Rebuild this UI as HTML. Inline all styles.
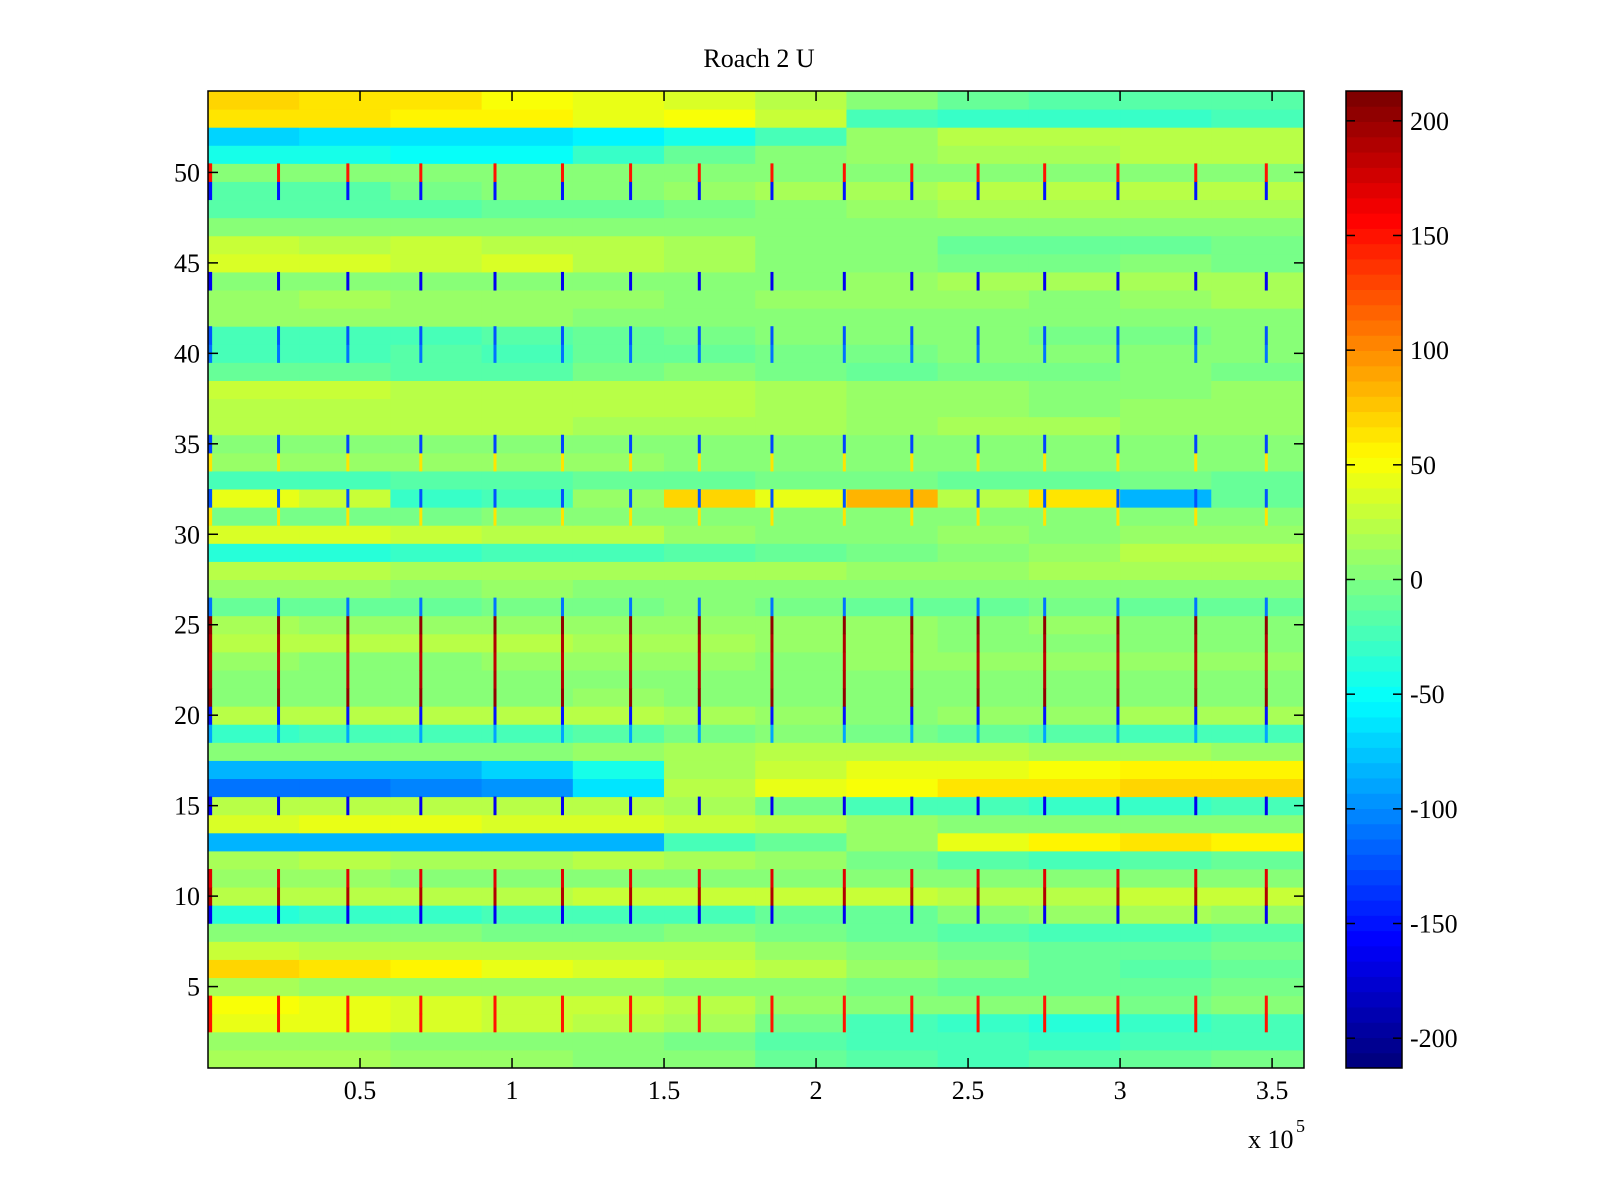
<!DOCTYPE html>
<html><head><meta charset="utf-8"><title>Roach 2 U</title>
<style>
html,body{margin:0;padding:0;background:#fff;}
svg{display:block;font-family:"Liberation Serif","DejaVu Serif",serif;}
</style></head>
<body>
<svg id="chart" width="1600" height="1200" viewBox="0 0 1600 1200" xmlns="http://www.w3.org/2000/svg">
<rect x="0" y="0" width="1600" height="1200" fill="#fff"/>
<text x="759" y="67" font-size="26" text-anchor="middle">Roach 2 U</text>
<g id="cells"></g>
<g id="stripes"></g>
<g id="axes"></g>
<g id="cbar"></g>
</svg>
<script>
// ---- data ----
const xSegEdges = [0,0.3,0.6,0.9,1.2,1.5,1.8,2.1,2.4,2.7,3.0,3.3,3.605]; // x (×1e5) segment edges
// row values, row 1 (bottom) .. row 54 (top); 12 segments each
const rowValues = [
[15,15,10,10,5,0,-10,-15,-20,-15,-10,-5],
[10,10,5,5,0,-5,-15,-20,-25,-30,-25,-20],
[45,45,35,30,25,15,-5,-20,-30,-35,-30,-25],
[50,40,35,30,30,20,10,5,0,0,-5,0],
[15,10,10,10,10,5,0,-5,-10,-10,-10,-5],
[70,65,55,40,35,30,20,10,0,-10,-15,-10],
[30,25,25,25,20,20,10,0,-5,-10,-10,-5],
[0,0,0,-5,-5,0,-5,-10,-15,-20,-20,-15],
[-35,-30,-30,-25,-20,-20,-10,-10,5,10,15,10],
[25,25,20,25,30,30,30,30,25,25,30,30],
[10,10,5,5,5,0,0,0,5,0,0,0],
[15,20,15,15,20,15,10,-5,-15,-20,-15,-10],
[-85,-85,-80,-85,-85,-20,-10,10,40,55,60,55],
[35,40,40,35,35,30,20,10,5,0,0,0],
[20,20,20,20,20,15,-5,-20,-25,-30,-30,-20],
[-110,-110,-100,-95,-60,25,40,50,60,65,70,70],
[-85,-80,-80,-70,-40,15,30,40,45,50,55,55],
[5,5,5,0,10,15,20,25,20,15,15,10],
[-30,-25,-25,-20,-15,-5,0,-5,-10,-15,-20,-20],
[25,25,20,20,20,15,10,5,10,10,15,15],
[5,5,0,5,10,5,0,0,0,0,0,0],
[0,0,0,5,5,5,5,0,0,5,5,5],
[10,5,5,10,10,10,5,10,10,10,10,10],
[20,20,20,20,15,15,10,10,5,5,5,5],
[15,10,10,10,10,10,10,10,5,10,5,5],
[-10,-10,-10,-5,-5,0,-5,-10,-10,-5,-10,-10],
[10,10,5,10,5,5,0,0,5,5,5,5],
[20,20,15,15,15,15,15,10,10,15,15,15],
[-35,-35,-30,-25,-20,-15,-10,-5,5,10,25,20],
[35,35,30,25,20,10,5,5,10,5,10,10],
[-5,-5,-5,0,0,5,0,5,5,0,5,5],
[40,30,-30,-20,10,70,40,80,20,65,-80,-10],
[-20,-20,-15,-15,-10,-10,-5,-5,-10,-10,-5,-10],
[10,10,10,10,10,5,5,0,0,0,5,5],
[5,5,0,5,5,5,0,0,5,0,0,5],
[25,25,20,20,15,15,15,10,15,15,10,10],
[25,25,25,25,20,20,15,10,10,5,10,10],
[30,30,25,25,20,20,15,10,10,5,5,10],
[-10,-10,-15,-15,-5,0,-5,-10,-5,-5,0,-5],
[-20,-20,-15,-20,-10,-10,-5,-5,0,0,0,5],
[-25,-25,-20,-15,-10,-5,0,5,0,-5,-5,0],
[10,10,10,10,5,5,5,0,5,0,0,5],
[10,15,10,10,10,5,10,10,10,5,10,15],
[5,5,5,5,0,5,5,10,15,15,15,15],
[35,35,30,35,20,15,5,0,-5,-5,0,-5],
[30,25,30,25,20,15,5,0,-10,-10,-10,-5],
[5,5,5,5,5,5,5,5,5,5,5,5],
[-15,-15,-15,-10,-10,-5,0,10,15,15,15,15],
[-15,-15,-5,0,5,10,15,15,20,20,20,20],
[0,0,5,5,5,5,5,0,0,0,5,5],
[-45,-45,-50,-50,-30,-10,0,10,15,15,20,20],
[-70,-65,-65,-60,-55,-40,-20,10,20,20,20,25],
[60,60,55,55,45,50,30,-20,-30,-30,-30,-25],
[70,65,60,50,45,35,20,0,-10,-15,-15,-15]
];
// periodic stripe x positions (×1e5)
const stripeX = [0.007,0.232,0.46,0.70,0.944,1.166,1.39,1.616,1.855,2.093,2.315,2.533,2.752,2.993,3.249,3.481];
// rows carrying stripes and their values
const stripeRows = [3,4,9,10,11,15,19,20,21,22,23,24,25,26,31,32,34,35,40,41,44,49,50];
const stripeVals = [150,150,-160,190,170,-160,-90,-150,200,190,180,190,200,-110,60,-120,60,-130,-110,-120,-160,-150,150];
const xTicks = [0.5,1,1.5,2,2.5,3,3.5];
const xTickLabels = ["0.5","1","1.5","2","2.5","3","3.5"];
const yTicks = [5,10,15,20,25,30,35,40,45,50];
const cTicks = [-200,-150,-100,-50,0,50,100,150,200];

// ---- layout ----
const L=208,R=1304,T=91,B=1068, XMAX=3.605, NROWS=54, CMIN=-213, CMAX=213;
const CBL=1346, CBR=1402;
const sx = v => L + v/XMAX*(R-L);
const sy = r => B - (r-0.5)/NROWS*(B-T); // row center
const rowH = (B-T)/NROWS;
const cy = v => B - (v-CMIN)/(CMAX-CMIN)*(B-T);
function jet(v){
  let t=(v-CMIN)/(CMAX-CMIN); t=Math.max(0,Math.min(1,t));
  t=Math.min(63,Math.floor(t*64))/63;
  const c=x=>Math.round(255*Math.max(0,Math.min(1,x)));
  return `rgb(${c(1.5-Math.abs(4*t-3))},${c(1.5-Math.abs(4*t-2))},${c(1.5-Math.abs(4*t-1))})`;
}
const NS="http://www.w3.org/2000/svg";
function mk(tag,attrs,parent){const e=document.createElementNS(NS,tag);for(const k in attrs)e.setAttribute(k,attrs[k]);parent.appendChild(e);return e;}

const cells=document.getElementById('cells');
rowValues.forEach((vals,ri)=>{
  const r=ri+1;
  vals.forEach((v,si)=>{
    const x0=sx(xSegEdges[si]), x1=sx(xSegEdges[si+1]);
    const e=mk('rect',{x:x0,y:sy(r)-rowH/2,width:x1-x0+0.5,height:rowH+0.5,fill:jet(v)},cells);
    
    
  });
});
const stripes=document.getElementById('stripes');
stripeRows.forEach((r,i)=>{
  stripeX.forEach((xv,j)=>{
    const w = j===0?4:3;
    const e=mk('rect',{x:sx(xv)-w/2,y:sy(r)-rowH/2,width:w,height:rowH+0.5,fill:jet(stripeVals[i])},stripes);
    
    
  });
});
// axes
const axes=document.getElementById('axes');
mk('rect',{x:L,y:T,width:R-L,height:B-T,fill:'none',stroke:'#000','stroke-width':1.5},axes);
xTicks.forEach((v,i)=>{
  const x=sx(v);
  mk('line',{x1:x,y1:B,x2:x,y2:B-10,stroke:'#000','stroke-width':1.5},axes);
  mk('line',{x1:x,y1:T,x2:x,y2:T+10,stroke:'#000','stroke-width':1.5},axes);
  const t=mk('text',{x:x,y:1099,'font-size':26,'text-anchor':'middle'},axes);
  t.textContent=xTickLabels[i];
  
  
});
yTicks.forEach(v=>{
  const y=sy(v);
  mk('line',{x1:L,y1:y,x2:L+10,y2:y,stroke:'#000','stroke-width':1.5},axes);
  mk('line',{x1:R,y1:y,x2:R-10,y2:y,stroke:'#000','stroke-width':1.5},axes);
  const t=mk('text',{x:200,y:y+9,'font-size':26,'text-anchor':'end'},axes);
  t.textContent=String(v);
  
  
});
const ex=mk('text',{x:1248,y:1148,'font-size':26},axes);
ex.textContent='x 10';


const ex5=mk('text',{x:1296,y:1132,'font-size':18},axes);
ex5.textContent='5';


// colorbar
const cbar=document.getElementById('cbar');
for(let i=0;i<64;i++){
  const v0=CMIN+i*(CMAX-CMIN)/64, v1=CMIN+(i+1)*(CMAX-CMIN)/64;
  const e=mk('rect',{x:CBL,y:cy(v1),width:CBR-CBL,height:cy(v0)-cy(v1)+0.5,fill:jet((v0+v1)/2)},cbar);
  
  
}
mk('rect',{x:CBL,y:T,width:CBR-CBL,height:B-T,fill:'none',stroke:'#000','stroke-width':1.5},cbar);
cTicks.forEach(v=>{
  const y=cy(v);
  mk('line',{x1:CBL,y1:y,x2:CBL+9,y2:y,stroke:'#000','stroke-width':1.5},cbar);
  mk('line',{x1:CBR,y1:y,x2:CBR-9,y2:y,stroke:'#000','stroke-width':1.5},cbar);
  const t=mk('text',{x:1410,y:y+9,'font-size':26},cbar);
  t.textContent=String(v);
  
  
});
</script>
</body></html>
